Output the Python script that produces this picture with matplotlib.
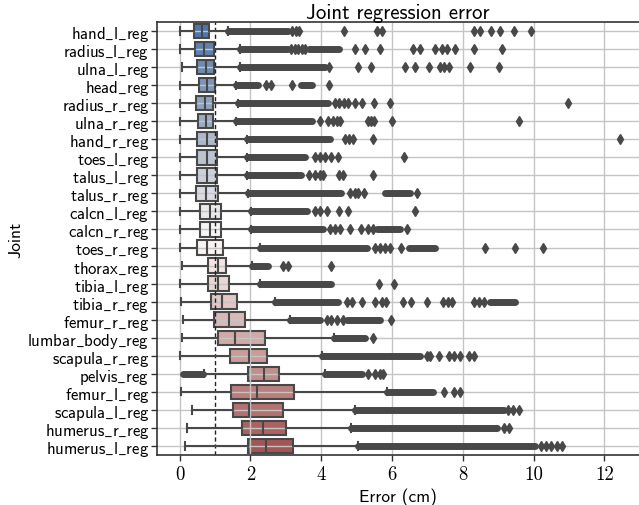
import numpy as np
import matplotlib
matplotlib.use('Agg')
import matplotlib.pyplot as plt
import seaborn as sns

plt.rcParams['mathtext.fontset'] = 'cm'

# Joint names, top to bottom
joints = ['hand_l_reg', 'radius_l_reg', 'ulna_l_reg', 'head_reg', 'radius_r_reg',
          'ulna_r_reg', 'hand_r_reg', 'toes_l_reg', 'talus_l_reg', 'talus_r_reg',
          'calcn_l_reg', 'calcn_r_reg', 'toes_r_reg', 'thorax_reg', 'tibia_l_reg',
          'tibia_r_reg', 'femur_r_reg', 'lumbar_body_reg', 'scapula_r_reg',
          'pelvis_reg', 'femur_l_reg', 'scapula_l_reg', 'humerus_r_reg', 'humerus_l_reg']

# box statistics (cm)
whis_lo = [0.02, 0.02, 0.06, 0.02, 0.02, 0.02, 0.02, 0.02, 0.02, 0.02, 0.02, 0.02,
           0.02, 0.08, 0.02, 0.05, 0.10, 0.07, 0.02, 0.68, 0.03, 0.35, 0.22, 0.14]
q1 = [0.41, 0.43, 0.50, 0.55, 0.47, 0.52, 0.48, 0.49, 0.49, 0.47, 0.57, 0.57,
      0.50, 0.79, 0.79, 0.90, 0.96, 1.09, 1.43, 1.92, 1.46, 1.52, 1.75, 1.92]
med = [0.62, 0.70, 0.74, 0.76, 0.72, 0.74, 0.76, 0.76, 0.76, 0.75, 0.85, 0.85,
       0.78, 1.07, 1.07, 1.21, 1.39, 1.56, 1.97, 2.37, 2.19, 1.97, 2.36, 2.44]
q3 = [0.82, 0.97, 0.97, 0.99, 0.95, 0.95, 1.06, 1.06, 1.06, 1.08, 1.18, 1.18,
      1.23, 1.30, 1.40, 1.63, 1.85, 2.42, 2.47, 2.81, 3.24, 2.92, 3.00, 3.19]
whis_hi = [1.37, 1.70, 1.70, 1.60, 1.65, 1.60, 1.89, 1.89, 1.89, 1.93, 2.03, 2.03,
           2.26, 2.05, 2.26, 2.69, 3.13, 4.37, 4.01, 4.11, 5.85, 4.96, 4.83, 5.05]

# outlier bands where the diamonds merge into a solid run (start, end)
flier_bands = [
    [(1.37, 3.05)],
    [(1.70, 3.05), (3.66, 4.50)],
    [(1.70, 3.02), (3.05, 4.10)],
    [(1.60, 2.22), (3.44, 3.73)],
    [(1.65, 4.20)],
    [(1.60, 3.73)],
    [(1.89, 4.25)],
    [(1.89, 3.55)],
    [(1.89, 3.44)],
    [(1.93, 4.55), (5.81, 6.51)],
    [(2.03, 3.59)],
    [(2.03, 4.06), (5.57, 6.23)],
    [(2.26, 5.29), (6.47, 7.22)],
    [(2.05, 2.50)],
    [(2.26, 4.29)],
    [(2.69, 4.48), (8.78, 9.49)],
    [(3.13, 3.96), (4.72, 5.66)],
    [(4.37, 5.24)],
    [(4.01, 6.80)],
    [(0.09, 0.66), (4.11, 5.14)],
    [(5.85, 7.17)],
    [(4.96, 9.16)],
    [(4.83, 8.97)],
    [(5.05, 10.05)],
]

# single outliers
flier_points = [
    [3.17, 3.30, 3.36, 4.64, 5.57, 5.73, 8.31, 8.50, 8.80, 9.04, 9.44, 9.93],
    [3.15, 3.25, 3.35, 3.45, 3.55, 4.96, 5.24, 5.66, 6.59, 6.78, 7.22, 7.41, 7.55, 7.77, 8.31, 9.11],
    [4.23, 5.05, 5.41, 6.37, 6.66, 7.06, 7.36, 7.46, 7.60, 8.21, 9.02],
    [2.43, 2.57, 3.18, 4.23],
    [4.39, 4.50, 4.63, 4.77, 4.96, 5.14, 5.50, 5.95, 10.98],
    [3.96, 4.20, 4.34, 4.45, 4.53, 5.33, 5.42, 5.50, 6.00, 9.59],
    [4.67, 4.78, 4.91, 5.45, 12.45],
    [3.82, 3.96, 4.11, 4.29, 4.48, 6.33],
    [3.65, 3.82, 3.96, 4.06, 4.51, 4.61, 5.47],
    [4.81, 4.96, 5.05, 5.21, 6.70],
    [3.82, 3.96, 4.15, 4.51, 4.77, 6.66],
    [4.25, 4.39, 4.53, 4.81, 5.13, 5.33, 5.46, 6.42],
    [5.52, 5.66, 5.81, 5.93, 6.26, 8.64, 9.49, 10.26],
    [2.93, 3.05, 4.28],
    [5.64, 6.06],
    [4.72, 4.86, 5.14, 5.52, 5.71, 5.83, 6.31, 6.54, 7.00, 7.44, 7.58, 7.71, 8.31, 8.45, 8.59],
    [4.15, 4.29, 4.44, 4.61, 5.97],
    [5.46],
    [6.99, 7.08, 7.32, 7.60, 7.74, 7.91, 8.17, 8.31],
    [5.33, 5.52, 5.66, 5.76],
    [7.48, 7.74, 7.91],
    [9.27, 9.42, 9.60],
    [9.16, 9.30],
    [10.20, 10.35, 10.50, 10.67, 10.81],
]

xticks = [0, 2, 4, 6, 8, 10, 12]

gray = '#484848'
colors = [sns.desaturate(c, 0.75) for c in sns.color_palette('vlag', len(joints))]

fig = plt.figure(figsize=(6.39, 5.06), dpi=100)
ax = fig.add_axes([157 / 639, 50 / 506, 482 / 639, 433 / 506])

stats = []
for i, name in enumerate(joints):
    stats.append(dict(label=name, whislo=whis_lo[i], q1=q1[i], med=med[i],
                      q3=q3[i], whishi=whis_hi[i], fliers=[]))

pos = np.arange(len(joints))
res = ax.bxp(stats, positions=pos, widths=0.8, orientation='horizontal',
             patch_artist=True, showfliers=False, zorder=2,
             boxprops=dict(edgecolor=gray, linewidth=1.5),
             whiskerprops=dict(color=gray, linewidth=1.5),
             capprops=dict(color=gray, linewidth=1.5),
             medianprops=dict(color=gray, linewidth=1.5))
for box, c in zip(res['boxes'], colors):
    box.set_facecolor(c)
    box.set_zorder(1)

# outliers
for i in range(len(joints)):
    for a, b in flier_bands[i]:
        ax.hlines(pos[i], a, b, color=gray, linewidth=5.0, capstyle='round', zorder=2)
    pts = flier_points[i]
    ax.plot(pts, [pos[i]] * len(pts), linestyle='none', marker='d',
            markersize=5, color=gray, zorder=2)

ax.axvline(1.0, color='#222222', linestyle='--', linewidth=1.0, dashes=(3, 2), zorder=1.6)

ax.set_xlim(-0.64, 12.98)
ax.set_ylim(len(joints) - 0.5, -0.5)

ax.set_axisbelow('line')
ax.grid(True, color='#c4c4c4', linewidth=1.0)

ax.set_xticks(xticks, labels=[str(t) for t in xticks], fontfamily='cmr10', fontsize=13.5)
ax.set_yticks(pos, labels=[r'$\mathsf{' + j.replace('_', r'\_') + '}$' for j in joints],
              fontsize=12)
ax.tick_params(axis='both', length=4, color='#333333', width=1.0)
ax.tick_params(axis='y', pad=1.5)

for s in ['left', 'bottom', 'top']:
    ax.spines[s].set_color('#333333')
    ax.spines[s].set_linewidth(1.2)
ax.spines['right'].set_visible(False)

ax.set_xlabel('Error (cm)', fontfamily='cmss10', fontsize=12.5, labelpad=3)
ax.set_ylabel('Joint', fontfamily='cmss10', fontsize=12.5)
ax.yaxis.set_label_coords(-0.278, 0.5)
ax.set_title('Joint regression error', fontfamily='cmss10', fontsize=15, pad=3)

fig.savefig('out.png', dpi=100)
